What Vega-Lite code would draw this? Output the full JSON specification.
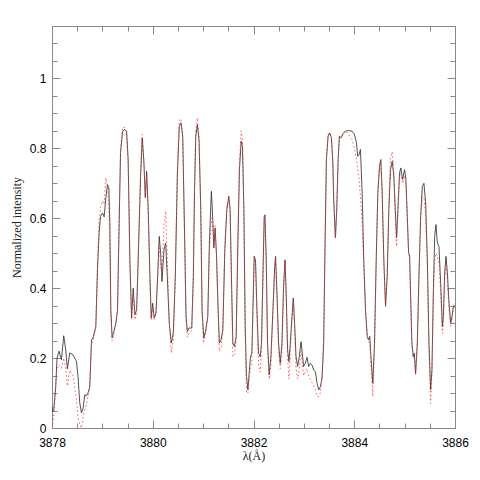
{
  "$schema": "https://vega.github.io/schema/vega-lite/v6.json",
  "autosize": "none",
  "width": 403,
  "height": 402,
  "padding": {"left": 52, "top": 26, "right": 25, "bottom": 52},
  "background": "white",
  "config": {
    "view": {"stroke": "#888888", "strokeWidth": 1},
    "axis": {
      "domainColor": "#888888",
      "tickColor": "#888888",
      "grid": false,
      "labelFont": "Liberation Sans",
      "labelFontSize": 12,
      "labelColor": "#000000",
      "titleFont": "Liberation Serif",
      "titleFontSize": 12,
      "titleFontWeight": "normal",
      "titleColor": "#222222",
      "labelOverlap": false,
      "labelFlush": false
    }
  },
  "datasets": {
    "obs": [
      {"x":3878.000,"y":0.06},{"x":3878.008,"y":0.047},{"x":3878.034,"y":0.05},{"x":3878.074,"y":0.118},{"x":3878.100,"y":0.20},{"x":3878.139,"y":0.22},{"x":3878.187,"y":0.195},{"x":3878.233,"y":0.264},{"x":3878.273,"y":0.223},{"x":3878.306,"y":0.169},{"x":3878.352,"y":0.215},{"x":3878.418,"y":0.209},{"x":3878.486,"y":0.19},{"x":3878.517,"y":0.147},{"x":3878.551,"y":0.072},{"x":3878.585,"y":0.043},{"x":3878.617,"y":0.057},{"x":3878.651,"y":0.095},{"x":3878.685,"y":0.092},{"x":3878.716,"y":0.101},{"x":3878.750,"y":0.118},{"x":3878.784,"y":0.252},{"x":3878.816,"y":0.259},{"x":3878.870,"y":0.29},{"x":3878.903,"y":0.453},{"x":3878.935,"y":0.558},{"x":3878.963,"y":0.605},{"x":3879.003,"y":0.615},{"x":3879.035,"y":0.604},{"x":3879.069,"y":0.659},{"x":3879.102,"y":0.696},{"x":3879.128,"y":0.688},{"x":3879.148,"y":0.587},{"x":3879.168,"y":0.338},{"x":3879.194,"y":0.258},{"x":3879.228,"y":0.276},{"x":3879.268,"y":0.30},{"x":3879.301,"y":0.338},{"x":3879.333,"y":0.587},{"x":3879.361,"y":0.788},{"x":3879.401,"y":0.849},{"x":3879.447,"y":0.854},{"x":3879.481,"y":0.849},{"x":3879.512,"y":0.768},{"x":3879.546,"y":0.481},{"x":3879.580,"y":0.315},{"x":3879.612,"y":0.40},{"x":3879.646,"y":0.324},{"x":3879.680,"y":0.338},{"x":3879.711,"y":0.481},{"x":3879.759,"y":0.72},{"x":3879.791,"y":0.83},{"x":3879.825,"y":0.759},{"x":3879.852,"y":0.659},{"x":3879.879,"y":0.734},{"x":3879.910,"y":0.625},{"x":3879.944,"y":0.434},{"x":3879.970,"y":0.315},{"x":3879.998,"y":0.357},{"x":3880.030,"y":0.315},{"x":3880.064,"y":0.329},{"x":3880.098,"y":0.434},{"x":3880.129,"y":0.548},{"x":3880.157,"y":0.50},{"x":3880.183,"y":0.419},{"x":3880.223,"y":0.51},{"x":3880.257,"y":0.529},{"x":3880.289,"y":0.434},{"x":3880.328,"y":0.30},{"x":3880.368,"y":0.243},{"x":3880.408,"y":0.272},{"x":3880.448,"y":0.434},{"x":3880.488,"y":0.72},{"x":3880.527,"y":0.863},{"x":3880.561,"y":0.873},{"x":3880.595,"y":0.835},{"x":3880.635,"y":0.529},{"x":3880.661,"y":0.319},{"x":3880.687,"y":0.276},{"x":3880.720,"y":0.286},{"x":3880.774,"y":0.286},{"x":3880.806,"y":0.434},{"x":3880.830,"y":0.68},{"x":3880.854,"y":0.835},{"x":3880.886,"y":0.868},{"x":3880.919,"y":0.825},{"x":3880.953,"y":0.625},{"x":3880.979,"y":0.338},{"x":3881.013,"y":0.257},{"x":3881.053,"y":0.281},{"x":3881.093,"y":0.319},{"x":3881.124,"y":0.529},{"x":3881.164,"y":0.677},{"x":3881.192,"y":0.596},{"x":3881.212,"y":0.515},{"x":3881.238,"y":0.572},{"x":3881.264,"y":0.50},{"x":3881.298,"y":0.338},{"x":3881.323,"y":0.243},{"x":3881.357,"y":0.252},{"x":3881.391,"y":0.281},{"x":3881.431,"y":0.51},{"x":3881.471,"y":0.625},{"x":3881.510,"y":0.663},{"x":3881.536,"y":0.625},{"x":3881.562,"y":0.434},{"x":3881.590,"y":0.243},{"x":3881.622,"y":0.233},{"x":3881.656,"y":0.262},{"x":3881.690,"y":0.529},{"x":3881.721,"y":0.739},{"x":3881.755,"y":0.82},{"x":3881.781,"y":0.806},{"x":3881.809,"y":0.625},{"x":3881.835,"y":0.29},{"x":3881.861,"y":0.147},{"x":3881.889,"y":0.109},{"x":3881.914,"y":0.157},{"x":3881.940,"y":0.204},{"x":3881.968,"y":0.214},{"x":3881.988,"y":0.338},{"x":3882.014,"y":0.491},{"x":3882.040,"y":0.481},{"x":3882.068,"y":0.338},{"x":3882.100,"y":0.214},{"x":3882.133,"y":0.204},{"x":3882.159,"y":0.243},{"x":3882.187,"y":0.434},{"x":3882.213,"y":0.605},{"x":3882.227,"y":0.61},{"x":3882.253,"y":0.481},{"x":3882.279,"y":0.243},{"x":3882.312,"y":0.152},{"x":3882.346,"y":0.204},{"x":3882.386,"y":0.338},{"x":3882.418,"y":0.453},{"x":3882.438,"y":0.491},{"x":3882.466,"y":0.386},{"x":3882.498,"y":0.243},{"x":3882.531,"y":0.185},{"x":3882.565,"y":0.243},{"x":3882.597,"y":0.405},{"x":3882.626,"y":0.481},{"x":3882.651,"y":0.376},{"x":3882.677,"y":0.223},{"x":3882.704,"y":0.19},{"x":3882.730,"y":0.243},{"x":3882.764,"y":0.319},{"x":3882.790,"y":0.372},{"x":3882.816,"y":0.30},{"x":3882.844,"y":0.204},{"x":3882.876,"y":0.176},{"x":3882.909,"y":0.204},{"x":3882.943,"y":0.247},{"x":3882.969,"y":0.214},{"x":3882.995,"y":0.176},{"x":3883.029,"y":0.185},{"x":3883.063,"y":0.202},{"x":3883.095,"y":0.176},{"x":3883.128,"y":0.185},{"x":3883.162,"y":0.18},{"x":3883.194,"y":0.166},{"x":3883.228,"y":0.161},{"x":3883.262,"y":0.128},{"x":3883.294,"y":0.109},{"x":3883.327,"y":0.118},{"x":3883.361,"y":0.142},{"x":3883.393,"y":0.243},{"x":3883.421,"y":0.529},{"x":3883.447,"y":0.768},{"x":3883.481,"y":0.835},{"x":3883.513,"y":0.844},{"x":3883.547,"y":0.83},{"x":3883.575,"y":0.76},{"x":3883.592,"y":0.653},{"x":3883.626,"y":0.544},{"x":3883.652,"y":0.625},{"x":3883.680,"y":0.768},{"x":3883.705,"y":0.835},{"x":3883.739,"y":0.83},{"x":3883.779,"y":0.842},{"x":3883.825,"y":0.849},{"x":3883.891,"y":0.851},{"x":3883.958,"y":0.849},{"x":3884.004,"y":0.84},{"x":3884.044,"y":0.816},{"x":3884.070,"y":0.777},{"x":3884.098,"y":0.782},{"x":3884.123,"y":0.797},{"x":3884.157,"y":0.672},{"x":3884.189,"y":0.481},{"x":3884.223,"y":0.338},{"x":3884.257,"y":0.262},{"x":3884.283,"y":0.252},{"x":3884.308,"y":0.262},{"x":3884.336,"y":0.195},{"x":3884.368,"y":0.128},{"x":3884.402,"y":0.243},{"x":3884.436,"y":0.481},{"x":3884.468,"y":0.672},{"x":3884.502,"y":0.749},{"x":3884.527,"y":0.768},{"x":3884.555,"y":0.672},{"x":3884.587,"y":0.481},{"x":3884.621,"y":0.348},{"x":3884.655,"y":0.434},{"x":3884.687,"y":0.625},{"x":3884.720,"y":0.739},{"x":3884.754,"y":0.763},{"x":3884.786,"y":0.72},{"x":3884.814,"y":0.625},{"x":3884.840,"y":0.544},{"x":3884.866,"y":0.625},{"x":3884.900,"y":0.73},{"x":3884.925,"y":0.744},{"x":3884.959,"y":0.711},{"x":3884.999,"y":0.739},{"x":3885.025,"y":0.711},{"x":3885.053,"y":0.605},{"x":3885.079,"y":0.50},{"x":3885.099,"y":0.496},{"x":3885.118,"y":0.386},{"x":3885.144,"y":0.243},{"x":3885.172,"y":0.204},{"x":3885.192,"y":0.214},{"x":3885.218,"y":0.157},{"x":3885.252,"y":0.243},{"x":3885.284,"y":0.434},{"x":3885.318,"y":0.605},{"x":3885.352,"y":0.691},{"x":3885.383,"y":0.70},{"x":3885.417,"y":0.644},{"x":3885.451,"y":0.481},{"x":3885.483,"y":0.243},{"x":3885.516,"y":0.109},{"x":3885.542,"y":0.166},{"x":3885.570,"y":0.386},{"x":3885.596,"y":0.548},{"x":3885.622,"y":0.582},{"x":3885.650,"y":0.529},{"x":3885.682,"y":0.519},{"x":3885.715,"y":0.415},{"x":3885.749,"y":0.29},{"x":3885.769,"y":0.319},{"x":3885.795,"y":0.443},{"x":3885.821,"y":0.491},{"x":3885.849,"y":0.443},{"x":3885.881,"y":0.357},{"x":3885.914,"y":0.30},{"x":3885.940,"y":0.319},{"x":3885.968,"y":0.348},{"x":3885.994,"y":0.352}
    ],
    "model": [
      {"x":3878.000,"y":0.00},{"x":3878.034,"y":0.03},{"x":3878.074,"y":0.12},{"x":3878.100,"y":0.17},{"x":3878.139,"y":0.18},{"x":3878.187,"y":0.17},{"x":3878.233,"y":0.20},{"x":3878.273,"y":0.17},{"x":3878.306,"y":0.12},{"x":3878.352,"y":0.165},{"x":3878.418,"y":0.15},{"x":3878.486,"y":0.08},{"x":3878.517,"y":0.03},{"x":3878.551,"y":0.01},{"x":3878.585,"y":0.00},{"x":3878.617,"y":0.03},{"x":3878.651,"y":0.05},{"x":3878.685,"y":0.07},{"x":3878.716,"y":0.09},{"x":3878.750,"y":0.12},{"x":3878.784,"y":0.24},{"x":3878.816,"y":0.25},{"x":3878.870,"y":0.29},{"x":3878.903,"y":0.47},{"x":3878.935,"y":0.59},{"x":3878.963,"y":0.63},{"x":3879.003,"y":0.65},{"x":3879.035,"y":0.64},{"x":3879.069,"y":0.716},{"x":3879.102,"y":0.69},{"x":3879.128,"y":0.64},{"x":3879.148,"y":0.50},{"x":3879.168,"y":0.32},{"x":3879.194,"y":0.25},{"x":3879.228,"y":0.27},{"x":3879.268,"y":0.30},{"x":3879.301,"y":0.34},{"x":3879.333,"y":0.60},{"x":3879.361,"y":0.80},{"x":3879.401,"y":0.86},{"x":3879.447,"y":0.86},{"x":3879.481,"y":0.84},{"x":3879.512,"y":0.75},{"x":3879.546,"y":0.47},{"x":3879.580,"y":0.31},{"x":3879.612,"y":0.38},{"x":3879.646,"y":0.31},{"x":3879.680,"y":0.33},{"x":3879.711,"y":0.49},{"x":3879.759,"y":0.74},{"x":3879.791,"y":0.84},{"x":3879.825,"y":0.76},{"x":3879.852,"y":0.66},{"x":3879.879,"y":0.72},{"x":3879.910,"y":0.61},{"x":3879.944,"y":0.42},{"x":3879.970,"y":0.31},{"x":3879.998,"y":0.34},{"x":3880.030,"y":0.31},{"x":3880.064,"y":0.33},{"x":3880.098,"y":0.44},{"x":3880.129,"y":0.52},{"x":3880.157,"y":0.47},{"x":3880.183,"y":0.44},{"x":3880.223,"y":0.58},{"x":3880.257,"y":0.62},{"x":3880.289,"y":0.48},{"x":3880.328,"y":0.30},{"x":3880.368,"y":0.215},{"x":3880.408,"y":0.25},{"x":3880.448,"y":0.44},{"x":3880.488,"y":0.74},{"x":3880.527,"y":0.88},{"x":3880.561,"y":0.885},{"x":3880.595,"y":0.83},{"x":3880.635,"y":0.52},{"x":3880.661,"y":0.31},{"x":3880.687,"y":0.26},{"x":3880.720,"y":0.27},{"x":3880.774,"y":0.28},{"x":3880.806,"y":0.44},{"x":3880.830,"y":0.70},{"x":3880.854,"y":0.85},{"x":3880.886,"y":0.887},{"x":3880.919,"y":0.83},{"x":3880.953,"y":0.62},{"x":3880.979,"y":0.33},{"x":3881.005,"y":0.243},{"x":3881.053,"y":0.27},{"x":3881.093,"y":0.32},{"x":3881.124,"y":0.50},{"x":3881.164,"y":0.60},{"x":3881.192,"y":0.58},{"x":3881.212,"y":0.52},{"x":3881.238,"y":0.58},{"x":3881.264,"y":0.49},{"x":3881.298,"y":0.33},{"x":3881.323,"y":0.22},{"x":3881.357,"y":0.23},{"x":3881.391,"y":0.28},{"x":3881.431,"y":0.52},{"x":3881.471,"y":0.64},{"x":3881.510,"y":0.66},{"x":3881.536,"y":0.61},{"x":3881.562,"y":0.42},{"x":3881.590,"y":0.204},{"x":3881.622,"y":0.21},{"x":3881.656,"y":0.25},{"x":3881.690,"y":0.54},{"x":3881.721,"y":0.76},{"x":3881.755,"y":0.85},{"x":3881.781,"y":0.82},{"x":3881.809,"y":0.62},{"x":3881.835,"y":0.27},{"x":3881.861,"y":0.10},{"x":3881.889,"y":0.10},{"x":3881.914,"y":0.14},{"x":3881.940,"y":0.17},{"x":3881.968,"y":0.19},{"x":3881.988,"y":0.33},{"x":3882.014,"y":0.49},{"x":3882.040,"y":0.47},{"x":3882.068,"y":0.32},{"x":3882.100,"y":0.18},{"x":3882.133,"y":0.16},{"x":3882.159,"y":0.22},{"x":3882.187,"y":0.43},{"x":3882.213,"y":0.60},{"x":3882.227,"y":0.61},{"x":3882.253,"y":0.47},{"x":3882.279,"y":0.22},{"x":3882.312,"y":0.14},{"x":3882.346,"y":0.18},{"x":3882.386,"y":0.33},{"x":3882.418,"y":0.45},{"x":3882.438,"y":0.49},{"x":3882.466,"y":0.38},{"x":3882.498,"y":0.22},{"x":3882.531,"y":0.17},{"x":3882.565,"y":0.22},{"x":3882.597,"y":0.40},{"x":3882.626,"y":0.48},{"x":3882.651,"y":0.36},{"x":3882.677,"y":0.20},{"x":3882.704,"y":0.14},{"x":3882.730,"y":0.21},{"x":3882.764,"y":0.31},{"x":3882.790,"y":0.37},{"x":3882.816,"y":0.29},{"x":3882.844,"y":0.17},{"x":3882.876,"y":0.14},{"x":3882.909,"y":0.17},{"x":3882.943,"y":0.22},{"x":3882.969,"y":0.18},{"x":3882.995,"y":0.15},{"x":3883.029,"y":0.16},{"x":3883.063,"y":0.17},{"x":3883.095,"y":0.15},{"x":3883.128,"y":0.14},{"x":3883.162,"y":0.13},{"x":3883.194,"y":0.12},{"x":3883.228,"y":0.11},{"x":3883.262,"y":0.09},{"x":3883.294,"y":0.09},{"x":3883.327,"y":0.10},{"x":3883.361,"y":0.15},{"x":3883.393,"y":0.26},{"x":3883.421,"y":0.53},{"x":3883.447,"y":0.77},{"x":3883.481,"y":0.84},{"x":3883.513,"y":0.845},{"x":3883.547,"y":0.83},{"x":3883.575,"y":0.76},{"x":3883.592,"y":0.65},{"x":3883.626,"y":0.544},{"x":3883.652,"y":0.62},{"x":3883.680,"y":0.76},{"x":3883.705,"y":0.83},{"x":3883.739,"y":0.83},{"x":3883.779,"y":0.845},{"x":3883.825,"y":0.85},{"x":3883.891,"y":0.84},{"x":3883.958,"y":0.825},{"x":3884.004,"y":0.80},{"x":3884.044,"y":0.77},{"x":3884.070,"y":0.74},{"x":3884.098,"y":0.71},{"x":3884.123,"y":0.66},{"x":3884.157,"y":0.58},{"x":3884.189,"y":0.46},{"x":3884.223,"y":0.34},{"x":3884.257,"y":0.27},{"x":3884.283,"y":0.25},{"x":3884.308,"y":0.24},{"x":3884.336,"y":0.17},{"x":3884.368,"y":0.09},{"x":3884.402,"y":0.22},{"x":3884.436,"y":0.48},{"x":3884.468,"y":0.68},{"x":3884.502,"y":0.75},{"x":3884.527,"y":0.76},{"x":3884.555,"y":0.66},{"x":3884.587,"y":0.47},{"x":3884.621,"y":0.35},{"x":3884.655,"y":0.45},{"x":3884.687,"y":0.65},{"x":3884.720,"y":0.77},{"x":3884.754,"y":0.79},{"x":3884.786,"y":0.73},{"x":3884.814,"y":0.61},{"x":3884.840,"y":0.52},{"x":3884.866,"y":0.61},{"x":3884.900,"y":0.72},{"x":3884.925,"y":0.73},{"x":3884.959,"y":0.70},{"x":3884.999,"y":0.72},{"x":3885.025,"y":0.70},{"x":3885.053,"y":0.60},{"x":3885.079,"y":0.50},{"x":3885.099,"y":0.48},{"x":3885.118,"y":0.37},{"x":3885.144,"y":0.24},{"x":3885.172,"y":0.20},{"x":3885.192,"y":0.20},{"x":3885.218,"y":0.15},{"x":3885.252,"y":0.24},{"x":3885.284,"y":0.43},{"x":3885.318,"y":0.60},{"x":3885.352,"y":0.66},{"x":3885.383,"y":0.66},{"x":3885.417,"y":0.61},{"x":3885.451,"y":0.46},{"x":3885.483,"y":0.22},{"x":3885.516,"y":0.07},{"x":3885.542,"y":0.15},{"x":3885.570,"y":0.38},{"x":3885.596,"y":0.48},{"x":3885.622,"y":0.50},{"x":3885.650,"y":0.49},{"x":3885.682,"y":0.47},{"x":3885.715,"y":0.39},{"x":3885.749,"y":0.27},{"x":3885.769,"y":0.30},{"x":3885.795,"y":0.43},{"x":3885.821,"y":0.47},{"x":3885.849,"y":0.42},{"x":3885.881,"y":0.34},{"x":3885.914,"y":0.29},{"x":3885.940,"y":0.31},{"x":3885.968,"y":0.34},{"x":3885.994,"y":0.35}
    ]
  },
  "layer": [
    {
      "data": {"name": "obs"},
      "mark": {"type": "line", "color": "#333333", "strokeWidth": 0.85, "clip": true},
      "encoding": {
        "x": {
          "field": "x", "type": "quantitative",
          "scale": {"domain": [3878, 3886], "nice": false, "zero": false},
          "axis": {
            "orient": "bottom",
            "title": "λ(Å)",
            "values": [3878,3878.5,3879,3879.5,3880,3880.5,3881,3881.5,3882,3882.5,3883,3883.5,3884,3884.5,3885,3885.5,3886],
            "tickSize": {"condition": {"test": "round(datum.value*2)%4==0", "value": -8}, "value": -5},
            "labelExpr": "round(datum.value*2)%4==0 ? format(datum.value,'d') : ''",
            "labelPadding": 17,
            "titlePadding": -1
          }
        },
        "y": {
          "field": "y", "type": "quantitative",
          "scale": {"domain": [0, 1.15], "nice": false, "zero": true},
          "axis": {
            "orient": "left",
            "title": "Normalized intensity",
            "values": [0,0.05,0.1,0.15,0.2,0.25,0.3,0.35,0.4,0.45,0.5,0.55,0.6,0.65,0.7,0.75,0.8,0.85,0.9,0.95,1,1.05,1.1,1.15],
            "tickSize": {"condition": {"test": "round(datum.value*20)%4==0", "value": -8}, "value": -5},
            "labelExpr": "round(datum.value*20)%4==0 ? format(datum.value,'.1~f') : ''",
            "labelPadding": 14,
            "titlePadding": 6
          }
        }
      }
    },
    {
      "data": {"name": "model"},
      "mark": {"type": "line", "color": "#ff3333", "strokeWidth": 1, "strokeDash": [1.5, 2.5], "opacity": 0.8, "clip": true},
      "encoding": {
        "x": {
          "field": "x", "type": "quantitative",
          "scale": {"domain": [3878, 3886], "nice": false, "zero": false},
          "axis": {
            "orient": "top",
            "title": null,
            "labels": false,
            "values": [3878,3878.5,3879,3879.5,3880,3880.5,3881,3881.5,3882,3882.5,3883,3883.5,3884,3884.5,3885,3885.5,3886],
            "tickSize": {"condition": {"test": "round(datum.value*2)%4==0", "value": -8}, "value": -5}
          }
        },
        "y": {
          "field": "y", "type": "quantitative",
          "scale": {"domain": [0, 1.15], "nice": false, "zero": true},
          "axis": {
            "orient": "right",
            "title": null,
            "labels": false,
            "values": [0,0.05,0.1,0.15,0.2,0.25,0.3,0.35,0.4,0.45,0.5,0.55,0.6,0.65,0.7,0.75,0.8,0.85,0.9,0.95,1,1.05,1.1,1.15],
            "tickSize": {"condition": {"test": "round(datum.value*20)%4==0", "value": -8}, "value": -5}
          }
        }
      }
    }
  ],
  "resolve": {"axis": {"x": "independent", "y": "independent"}}
}
